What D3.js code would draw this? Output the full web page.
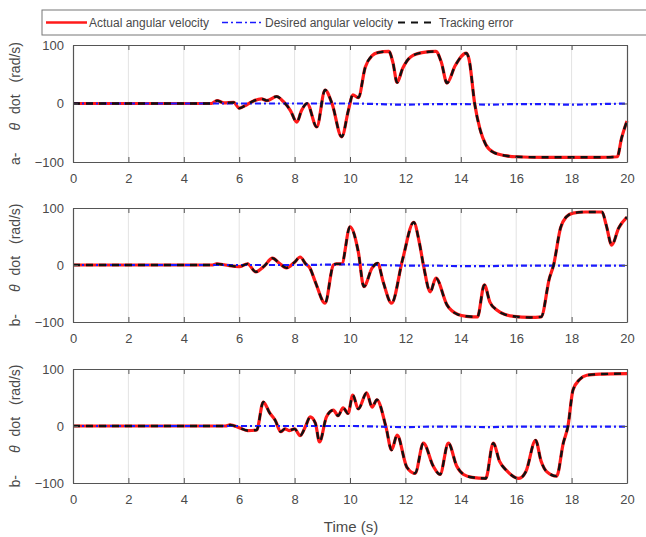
<!DOCTYPE html>
<html>
<head>
<meta charset="utf-8">
<script src="https://cdn.jsdelivr.net/npm/d3@7"></script>
<style>
  body { margin: 0; background: #fff; }
  svg { display: block; font-family: "Liberation Sans", Arial, sans-serif; }
</style>
</head>
<body>
<div id="chart"></div>
<script>
// Data (time in s, angular velocity in rad/s)
const timeA = [0, 5.0, 5.2, 5.45, 5.8, 6.0, 6.2, 6.5, 6.8, 7.0, 7.35, 7.6, 7.85, 8.08, 8.25, 8.45, 8.8, 9.1, 9.35, 9.7, 9.95, 10.1, 10.3, 10.55, 10.8, 11.0, 11.4, 11.55, 11.7, 11.9, 12.2, 12.6, 13.1, 13.3, 13.5, 13.8, 14.2, 14.3, 14.5, 14.7, 14.9, 15.2, 15.6, 16.0, 17, 18, 19, 19.65, 19.8, 20];
const actualA = [0, 0, 5, 1, 2, -8, -4, 4, 8, 5, 12, 3, -12, -32, -12, 0, -40, 23, 0, -57, -10, 15, 10, 62, 82, 87, 89, 70, 36, 60, 80, 87, 89, 70, 35, 65, 86, 75, 0, -45, -70, -84, -89, -91, -92, -92, -92, -91, -60, -30];

const timeB = [0, 5.0, 5.2, 5.5, 6.0, 6.3, 6.6, 6.9, 7.2, 7.45, 7.7, 8.0, 8.2, 8.4, 8.55, 8.75, 9.1, 9.4, 9.5, 9.7, 10.0, 10.3, 10.5, 10.8, 11.0, 11.2, 11.5, 11.9, 12.3, 12.5, 12.65, 12.9, 13.1, 13.5, 13.9, 14.2, 14.6, 14.85, 15.05, 15.3, 15.6, 15.9, 16.5, 16.9, 17.2, 17.35, 17.6, 17.8, 18.05, 18.5, 19.1, 19.25, 19.45, 19.7, 20];
const actualB = [0, 0, 2, 0, -3, 2, -12, -2, 12, 3, -5, 5, 14, 2, -5, -30, -67, 0, 2, 2, 67, 23, -38, -5, 3, -30, -67, 10, 75, 40, 0, -47, -23, -70, -87, -90, -91, -35, -65, -79, -87, -90, -92, -91, -23, 0, 65, 84, 91, 93, 93, 70, 35, 65, 84];

const timeC = [0, 5.5, 5.67, 6.0, 6.3, 6.63, 6.87, 7.1, 7.3, 7.5, 7.65, 7.8, 8.0, 8.2, 8.4, 8.56, 8.75, 8.9, 9.15, 9.4, 9.57, 9.75, 9.93, 10.1, 10.3, 10.6, 10.8, 10.97, 11.3, 11.5, 11.7, 12.05, 12.35, 12.65, 13.0, 13.25, 13.55, 13.85, 14.1, 14.4, 14.9, 15.17, 15.4, 15.65, 16.1, 16.35, 16.7, 16.9, 17.1, 17.46, 17.7, 17.87, 18.05, 18.3, 18.55, 19, 20];
const actualC = [0, 0, 2, -3, -8, -7, 42, 23, 10, -10, -5, -8, -5, -17, 0, 16, 5, -28, 16, 28, 18, 32, 22, 54, 30, 58, 33, 46, -2, -42, -16, -72, -83, -30, -70, -85, -30, -70, -85, -90, -92, -30, -62, -78, -92, -80, -25, -62, -80, -88, -30, 0, 63, 82, 89, 91, 92];

// desired angular velocity stays close to zero
const timeD = [0, 2, 4, 6, 8, 10, 11, 12, 13, 14, 15, 16, 17, 18, 19, 20];
const desiredA = [0, 0, 0, 0, 0, 0, -1, -2, -1, -1, -2, -1, -1, -2, -1, 0];
const desiredB = [0, 0, 0, 0, 0, 1, 0, -1, -1, -2, -2, -1, -1, -1, -1, -1];
const desiredC = [0, 0, 0, 0, 0, 0, -1, -2, -1, -1, -2, -1, -1, -1, -1, -1];

const panelLetters = ["a-", "b-", "b-"];
const xTicks = [0, 2, 4, 6, 8, 10, 12, 14, 16, 18, 20];
const yTicks = [-100, 0, 100];
const legendLabels = ["Actual angular velocity", "Desired angular velocity", "Tracking error"];

const panels = [
    { time: timeA, actual: actualA, desired: desiredA, top: 45, bottom: 162 },
    { time: timeB, actual: actualB, desired: desiredB, top: 208, bottom: 322 },
    { time: timeC, actual: actualC, desired: desiredC, top: 369, bottom: 483 }
];

const W = 646, H = 537;
const left = 73, right = 627;

const svg = d3.select("#chart").append("svg")
    .attr("width", W)
    .attr("height", H);

const x = d3.scaleLinear().domain([0, 20]).range([left, right]);

const styles = {
    actual: { color: "#ff1a1a", width: 3.2, dash: null },
    desired: { color: "#1a1aff", width: 2.2, dash: "6,3,2,3" },
    error: { color: "#111", width: 2.4, dash: "7,6" }
};

panels.forEach((p, i) => {
    const y = d3.scaleLinear().domain([-100, 100]).range([p.bottom, p.top]);
    const g = svg.append("g");

    // grid
    g.selectAll(".vgrid").data(xTicks.slice(1, -1)).enter().append("line")
        .attr("x1", d => x(d)).attr("x2", d => x(d))
        .attr("y1", p.top).attr("y2", p.bottom)
        .attr("stroke", "#e3e3e3").attr("stroke-width", 1);
    g.append("line")
        .attr("x1", left).attr("x2", right)
        .attr("y1", y(0)).attr("y2", y(0))
        .attr("stroke", "#e3e3e3").attr("stroke-width", 1);

    // lines
    const line = (ts) => d3.line()
        .x((d, k) => x(ts[k]))
        .y(d => y(d))
        .curve(d3.curveMonotoneX);

    g.append("path").datum(p.actual)
        .attr("d", line(p.time))
        .attr("fill", "none")
        .attr("stroke", styles.actual.color)
        .attr("stroke-width", styles.actual.width)
        .attr("stroke-linejoin", "round");

    g.append("path").datum(p.desired)
        .attr("d", line(timeD))
        .attr("fill", "none")
        .attr("stroke", styles.desired.color)
        .attr("stroke-width", styles.desired.width)
        .attr("stroke-dasharray", styles.desired.dash);

    // tracking error trace follows the actual one
    g.append("path").datum(p.actual)
        .attr("d", line(p.time))
        .attr("fill", "none")
        .attr("stroke", styles.error.color)
        .attr("stroke-width", styles.error.width)
        .attr("stroke-dasharray", styles.error.dash);

    // axes (MATLAB style: ticks inside, box on)
    const xb = g.append("g").attr("transform", `translate(0,${p.bottom})`)
        .call(d3.axisBottom(x).tickValues(xTicks).tickSizeInner(-5).tickSizeOuter(0).tickPadding(12));
    const xt = g.append("g").attr("transform", `translate(0,${p.top})`)
        .call(d3.axisTop(x).tickValues(xTicks).tickSizeInner(-5).tickSizeOuter(0).tickFormat(""));
    const yl = g.append("g").attr("transform", `translate(${left},0)`)
        .call(d3.axisLeft(y).tickValues(yTicks).tickSizeInner(-5).tickSizeOuter(0).tickPadding(9));
    const yr = g.append("g").attr("transform", `translate(${right},0)`)
        .call(d3.axisRight(y).tickValues(yTicks).tickSizeInner(-5).tickSizeOuter(0).tickFormat(""));

    [xb, xt, yl, yr].forEach(a => {
        a.select(".domain").attr("stroke", "#555").attr("stroke-width", 1.2);
        a.selectAll(".tick line").attr("stroke", "#555");
        a.selectAll("text").attr("fill", "#4a4a4a")
            .style("font-family", "'Liberation Sans', Arial, sans-serif")
            .style("font-size", "13px");
    });

    // y label
    const cy = (p.top + p.bottom) / 2;
    const lab = svg.append("text")
        .attr("transform", `translate(20,${cy}) rotate(-90)`)
        .attr("text-anchor", "middle")
        .attr("fill", "#4a4a4a")
        .style("font-size", "14px");
    lab.append("tspan").text(panelLetters[i]);
    lab.append("tspan").attr("dx", 22).style("font-style", "italic").text("θ");
    lab.append("tspan").attr("dx", 9).text("dot");
    lab.append("tspan").attr("dx", 12).text("(rad/s)");
});

// x label
svg.append("text")
    .attr("x", 351).attr("y", 532)
    .attr("text-anchor", "middle")
    .attr("fill", "#4a4a4a")
    .style("font-size", "15px")
    .text("Time (s)");

// legend
const leg = svg.append("g");
leg.append("rect")
    .attr("x", 42).attr("y", 10)
    .attr("width", 640).attr("height", 25)
    .attr("fill", "#fff")
    .attr("stroke", "#777")
    .attr("stroke-width", 1);

const legItems = [
    { x0: 46, x1: 87, tx: 89, s: styles.actual },
    { x0: 222, x1: 263, tx: 265, s: styles.desired },
    { x0: 398, x1: 437, tx: 439, s: styles.error }
];
legItems.forEach((it, k) => {
    leg.append("line")
        .attr("x1", it.x0).attr("x2", it.x1)
        .attr("y1", 22.5).attr("y2", 22.5)
        .attr("stroke", it.s.color)
        .attr("stroke-width", it.s.width - 0.6)
        .attr("stroke-dasharray", it.s.dash);
    leg.append("text")
        .attr("x", it.tx).attr("y", 27)
        .attr("fill", "#4a4a4a")
        .style("font-size", "12px")
        .text(legendLabels[k]);
});
</script>
</body>
</html>
